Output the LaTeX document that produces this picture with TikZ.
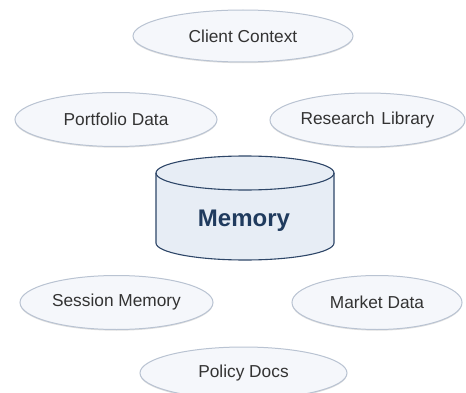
\documentclass[tikz,border=0pt]{standalone}
\usepackage{fontspec}
\setmainfont{Liberation Sans}
\usetikzlibrary{shapes.geometric,shadows}
\definecolor{ellfill}{HTML}{F5F7FB}
\definecolor{elldraw}{HTML}{B9C3D2}
\definecolor{txt}{HTML}{333333}
\definecolor{cylfill}{HTML}{E7EDF5}
\definecolor{cyldraw}{HTML}{2E4668}
\definecolor{memtxt}{HTML}{203B5E}
\tikzset{
  src/.style={ellipse, draw=elldraw, line width=1pt, fill=ellfill, inner sep=0pt,
    text=txt, font=\fontsize{17.3}{19}\selectfont,
    drop shadow={shadow xshift=0pt, shadow yshift=-1.2pt, opacity=0.25, fill=gray}},
}
\begin{document}
\begin{tikzpicture}[x=1pt,y=1pt]
\useasboundingbox[fill=white] (0,0) rectangle (466,392);
% nodes
\node[src, minimum width=220pt, minimum height=52pt] (cc) at (243,356) {Client Context};
\node[src, minimum width=202pt, minimum height=54pt] (pd) at (116,272.5) {Portfolio Data};
\node[src, minimum width=195pt, minimum height=54pt] (rl) at (367.5,272) {Research\hspace{2pt} Library};
\node[src, minimum width=193pt, minimum height=54pt] (sm) at (116.5,89.5) {Session Memory};
\node[src, minimum width=170pt, minimum height=54pt] (md) at (377,89.5) {Market Data};
\node[src, minimum width=207pt, minimum height=52pt] (po) at (243.5,19) {Policy Docs};
% cylinder
\coordinate (tl) at (156,219);
\coordinate (bl) at (156,149);
\coordinate (br) at (334,149);
\coordinate (tr) at (334,219);
\path[fill=cylfill, draw=cyldraw, line width=1.1pt]
  (tl) -- (bl) arc (180:360:89pt and 17pt) -- (tr) arc (0:180:89pt and 17pt) -- cycle;
\draw[cyldraw, line width=1.1pt] (tl) arc (180:360:89pt and 17pt);
\node[text=memtxt, font=\fontsize{24}{28}\selectfont\bfseries] (mem) at (244,171) {Memory};
\end{tikzpicture}
\end{document}
